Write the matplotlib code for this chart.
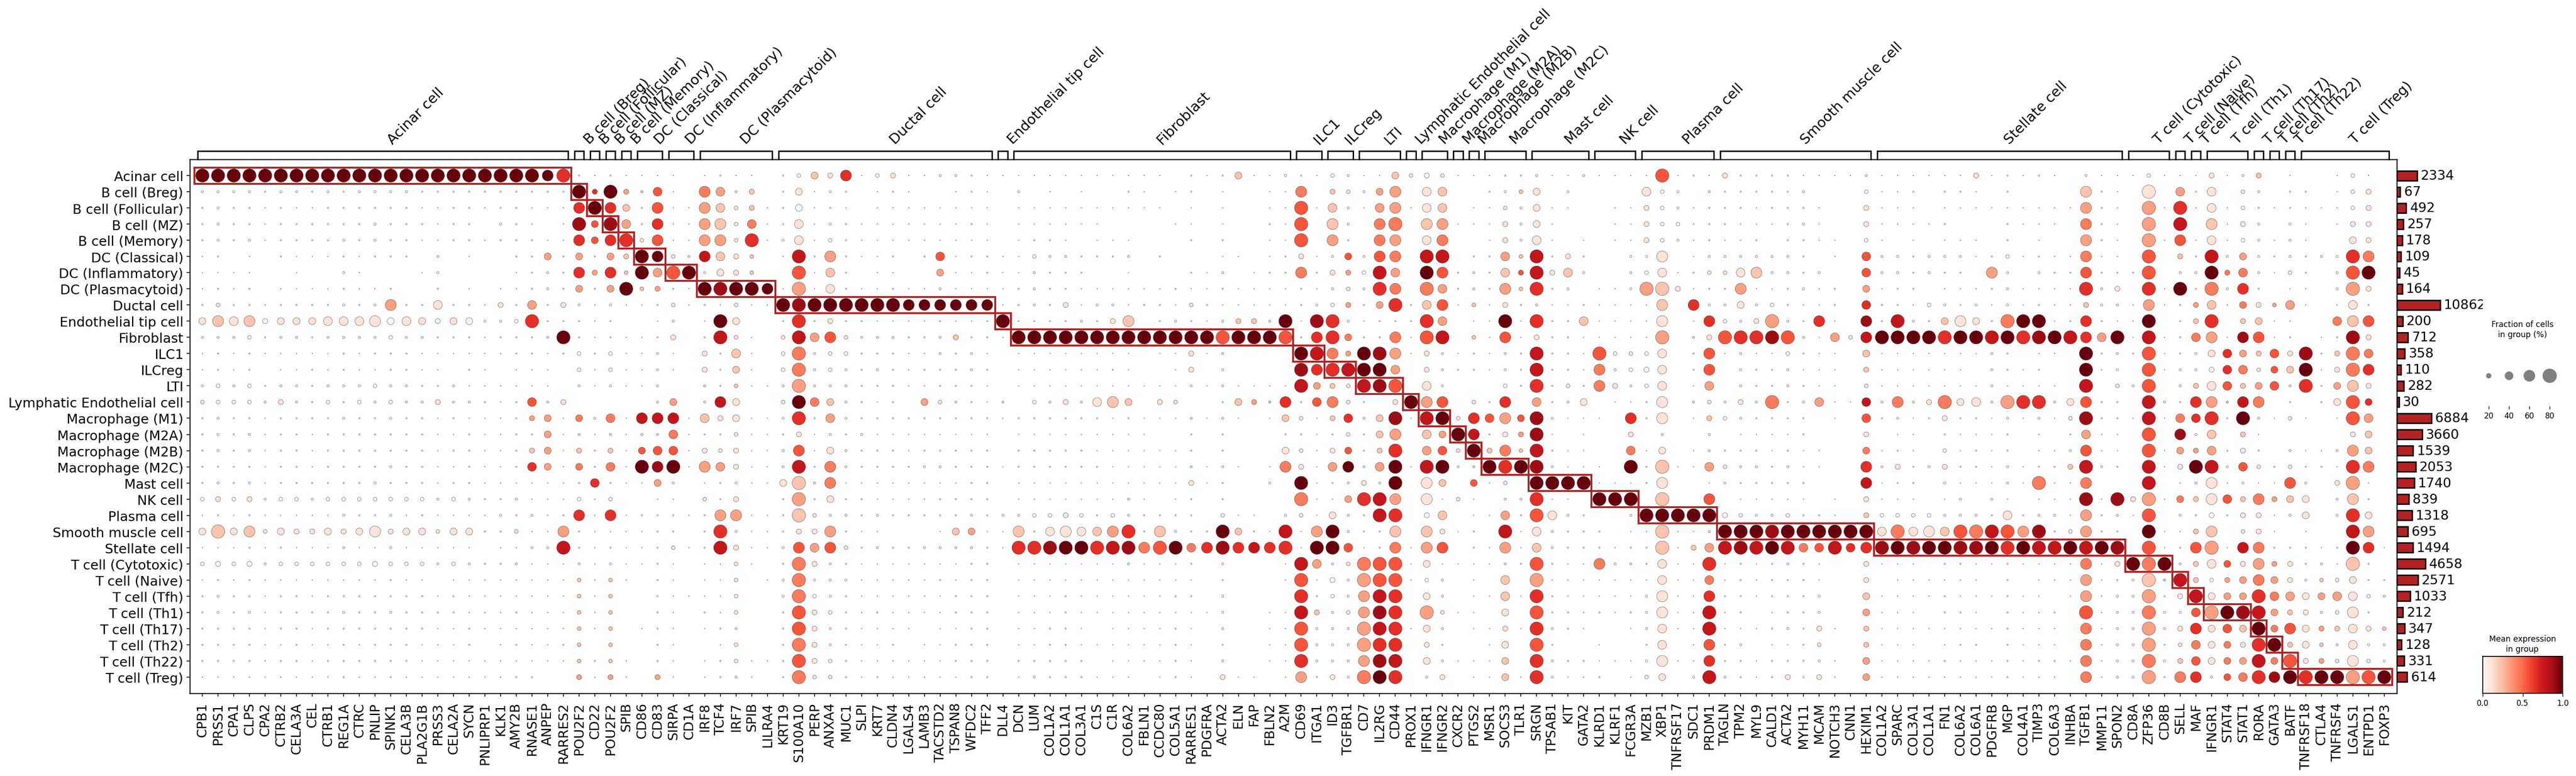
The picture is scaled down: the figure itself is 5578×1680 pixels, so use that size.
import matplotlib

matplotlib.use("Agg")
import matplotlib.pyplot as plt
import numpy as np
from matplotlib.cm import ScalarMappable
from matplotlib.colors import Normalize
from matplotlib.patches import Rectangle

W, H = 5578, 1681

cell_types = [
    "Acinar cell", "B cell (Breg)", "B cell (Follicular)", "B cell (MZ)", "B cell (Memory)",
    "DC (Classical)", "DC (Inflammatory)", "DC (Plasmacytoid)", "Ductal cell",
    "Endothelial tip cell", "Fibroblast", "ILC1", "ILCreg", "LTI",
    "Lymphatic Endothelial cell", "Macrophage (M1)", "Macrophage (M2A)", "Macrophage (M2B)",
    "Macrophage (M2C)", "Mast cell", "NK cell", "Plasma cell", "Smooth muscle cell",
    "Stellate cell", "T cell (Cytotoxic)", "T cell (Naive)", "T cell (Tfh)", "T cell (Th1)",
    "T cell (Th17)", "T cell (Th2)", "T cell (Th22)", "T cell (Treg)",
]
cell_counts = [
    2334, 67, 492, 257, 178, 109, 45, 164, 10862, 200, 712, 358, 110, 282, 30, 6884,
    3660, 1539, 2053, 1740, 839, 1318, 695, 1494, 4658, 2571, 1033, 212, 347, 128, 331, 614,
]
genes_per_group = [
    24, 1, 1, 1, 1, 2, 2, 5, 14, 1, 18, 2, 2, 3, 1, 2, 1, 1, 3, 4, 3, 5, 10, 16, 3, 1, 1, 3, 1, 1, 1, 6,
]
genes = """CPB1 PRSS1 CPA1 CLPS CPA2 CTRB2 CELA3A CEL CTRB1 REG1A CTRC PNLIP SPINK1 CELA3B PLA2G1B
PRSS3 CELA2A SYCN PNLIPRP1 KLK1 AMY2B RNASE1 ANPEP RARRES2 POU2F2 CD22 POU2F2 SPIB CD86 CD83
SIRPA CD1A IRF8 TCF4 IRF7 SPIB LILRA4 KRT19 S100A10 PERP ANXA4 MUC1 SLPI KRT7 CLDN4 LGALS4
LAMB3 TACSTD2 TSPAN8 WFDC2 TFF2 DLL4 DCN LUM COL1A2 COL1A1 COL3A1 C1S C1R COL6A2 FBLN1 CCDC80
COL5A1 RARRES1 PDGFRA ACTA2 ELN FAP FBLN2 A2M CD69 ITGA1 ID3 TGFBR1 CD7 IL2RG CD44 PROX1
IFNGR1 IFNGR2 CXCR2 PTGS2 MSR1 SOCS3 TLR1 SRGN TPSAB1 KIT GATA2 KLRD1 KLRF1 FCGR3A MZB1 XBP1
TNFRSF17 SDC1 PRDM1 TAGLN TPM2 MYL9 CALD1 ACTA2 MYH11 MCAM NOTCH3 CNN1 HEXIM1 COL1A2 SPARC
COL3A1 COL1A1 FN1 COL6A2 COL6A1 PDGFRB MGP COL4A1 TIMP3 COL6A3 INHBA TGFB1 MMP11 SPON2 CD8A
ZFP36 CD8B SELL MAF IFNGR1 STAT4 STAT1 RORA GATA3 BATF TNFRSF18 CTLA4 TNFRSF4 LGALS1 ENTPD1
FOXP3""".split()

# each digit is one cell, rows as cell_types, columns as genes (spaces are only for counting)
frac_levels = [0, 1.5, 3.7, 7, 14, 21, 32, 44, 59, 76]  # percent of cells per digit
frac_rows = [
    "999999999999999999999989 21211110 12110 24658145113321 1 111111111102126113 21431 16454 11122 31131 11191 21522 22111 13111 1 11512 12103 11141 11513 50100 1410",
    "333323323233332222222222 95953710 87350 26132012100121 0 301010021012010011 80543 68077 00234 60300 00743 03222 22300 04112 0 22102 00008 21090 72704 30220 1450",
    "232212112222221122122111 89862811 87451 26121011111111 0 111111111101010011 91731 78177 01143 61100 11543 12221 22210 05111 0 11111 11118 21091 91714 21211 1450",
    "232212222223222122032101 96972811 88471 27132111111121 0 111111000011010021 90830 89088 11153 61000 11544 12211 12310 05111 1 20002 11108 21090 90815 30310 1550",
    "232312222323221122122211 86894811 88491 37142111111111 0 122101110002020011 90820 88078 00153 71010 11543 12112 02211 04101 0 11102 01008 21091 81714 31310 0650",
    "120102111212220301002262 62659843 87540 19282112027122 1 143322230200011012 51363 88099 02274 92520 03380 13333 33201 07332 3 33124 12118 11090 52936 32323 3980",
    "111100100310001300001232 85849799 36540 09172011006112 1 132220010002130122 82554 97098 23275 95730 03471 24478 33230 07332 3 22083 03228 22290 33957 31420 3990",
    "121201111211200201011232 62694521 99998 19172112113111 1 232211111121121111 21343 98097 23284 92301 13995 12281 12312 06122 0 11123 11119 35091 92938 20110 3950",
    "242212222323822722152725 31311241 21411 99999999888888 1 232513312214211111 23452 69278 14152 31121 11180 83363 42112 07221 4 31313 12115 33181 25716 54710 1720",
    "687856667778676566334922 21200130 19600 29252211112112 9 222232580232135539 19931 22297 01191 92271 11180 18435 93281 08293 2 68629 99128 21190 25905 61100 7880",
    "333423323333433222122239 21211250 29410 49784333223522 1 999999999999999999 28962 28199 04181 52211 11190 35999 99317 48999 9 99999 99998 79191 27818 81201 2950",
    "121211111212221111112212 42411310 52710 49344222113231 0 111111110115130000 99859 98153 12132 92219 44470 28131 14211 06111 1 11132 01109 23291 23676 57592 5970",
    "121201121211221102101110 41411310 52610 49343232122232 0 111111210015030000 98999 97053 22132 92218 34570 28032 23111 05111 1 11032 12009 13091 33577 46691 5980",
    "343423323334332231111110 31311300 32411 39333222112221 0 111111111113131111 96549 99073 00042 92428 53470 17032 23211 04111 1 11131 11109 04390 35775 67392 6850",
    "444435324243433533212735 00000360 38600 49763212064321 3 043537860540026538 27842 05988 04280 72360 11280 34353 92371 17383 5 96739 99368 22093 28838 80202 6960",
    "232212222322322121112561 63718881 75611 39273222222222 1 222222121113131016 41573 69199 48786 93111 08280 15432 22201 07231 2 52213 13149 22191 77929 31410 1970",
    "232312212222222112112261 31313371 22411 25132311111111 0 111111111002020002 21242 68076 98255 91010 05030 03011 11200 05011 0 21112 01027 11090 83705 10000 0560",
    "232312212222222122112561 52516771 54511 38163222122222 0 222221111112020006 41562 59077 49584 92110 07160 13222 12110 06121 0 41212 01138 11091 65725 20311 3860",
    "222212212222322112112761 62719891 87511 39283222233222 1 222222111113131018 51783 79199 33999 93111 09291 17433 23110 08352 3 52213 12259 32091 59937 42422 1980",
    "232312222223222122111111 27211630 12311 69381111111122 0 111111111115120030 91235 39086 06140 99991 11280 01322 22200 08122 0 31113 19118 00090 13813 11830 5910",
    "454534434444444343223111 41400110 42500 29262211112222 0 111111131012020000 91169 98081 41033 91109 99090 08011 11101 05111 0 13031 01119 19591 65875 85660 3820",
    "121211111322312111132312 81812221 28811 29433232222232 3 344542432222041103 41632 99057 01172 97320 03999 99543 34221 05444 4 33327 23318 23190 32525 51360 3960",
    "696846556568566466224118 21111220 29311 25582110001661 1 827877892832296219 18932 28085 12091 73222 01191 13999 99999 99797 8 79999 89248 22091 15804 51010 0980",
    "111212111311311111011339 21211241 29511 38784232233332 1 999999998997898889 19971 28188 02181 73222 12291 57999 99779 78999 9 99999 99999 99091 28918 82221 2981",
    "454534444445444343223111 31311210 11410 29532111111122 0 111111131112030001 97349 99161 11132 92118 33271 19121 23210 05111 0 22112 11118 15999 35765 85523 1920",
    "121211111111211011111111 41410210 11401 39333111112122 0 111111111111020001 91539 99143 01070 91111 11171 17121 22210 05011 1 11102 01118 12393 95456 86534 4622",
    "232212212222222121111111 41400211 11400 39432111111222 0 111211111122030000 92438 99063 01171 92111 11381 18221 22230 06111 1 21112 11018 13392 59666 97766 7743",
    "232312222322322221112111 41400210 21400 29542121111222 0 111211111111130011 95348 99094 11060 92212 12381 19120 12230 06111 0 22102 11209 13393 37999 96553 4820",
    "222212212222222112111111 41401210 12300 29532111101122 0 112210111121030011 93339 99163 01151 93210 01371 19111 23251 05111 1 11112 11108 13393 58676 96865 5754",
    "222211211212221112012112 40400210 01400 29532112011222 0 112211111121020011 93339 99052 00160 92001 00270 18230 11240 05111 0 12202 11108 13392 47665 99564 3733",
    "222212212222221111111111 42410210 12411 29542111111222 0 222220111121030011 93338 99063 11160 93221 11381 18221 22231 06111 1 21112 12218 13393 57666 96955 4843",
    "111111111211211111112200 51510510 12310 29442121111122 0 132221110121051101 82539 99035 01161 93112 01460 39321 25251 06111 1 11112 11108 13392 88367 98999 9999",
]
# mean expression, digit / 9
expr_rows = [
    "999999999999999999999996 00000000 00000 00216001000000 0 000000000000002000 00000 02101 00000 00000 00050 00100 00000 00000 0 00100 00000 00000 00100 20000 0000",
    "000000000000000000000000 96932500 43120 01000000000000 0 000000000000000000 40210 33012 00002 10000 00100 01000 00000 00000 0 00000 00002 00010 30101 00000 0010",
    "000000000000000000000000 69620500 32120 00000000000000 0 000000000000000000 50200 33012 00010 10000 00100 00000 00000 01000 0 00000 00003 00030 60100 00000 0010",
    "000000000000000000000000 85830600 32140 01000000000000 0 000000000000000000 50200 44023 00010 10000 00100 00000 00000 01000 0 00000 00004 00030 70201 00000 0110",
    "000000000000000000000000 65661500 33160 01000000000000 0 000000000000000000 50300 43014 00010 10000 00100 00000 00000 00000 0 00000 00003 00030 50100 00000 0110",
    "000000000000000000000030 30329911 72120 07030000005000 0 000000000000000000 10050 54077 00032 70100 00010 00000 00000 05000 0 00000 00004 00050 20703 00000 0640",
    "000000000000000000000000 63629359 01120 05020000003000 0 000000000000000000 40130 73095 00025 71200 00010 01112 00000 05000 0 00030 00005 00050 00944 00100 0590",
    "000000000000000000000000 30392300 98999 03010000000000 0 000000000000000000 00010 64043 00032 60000 00321 00030 00000 03000 0 00000 00006 11060 90406 00000 0310",
    "010000000000300100010301 00000010 00100 98999999999999 0 000100000001000000 00030 36025 02010 00000 00020 60010 00000 06000 0 00000 00002 01030 03204 13300 0100",
    "121201111111011010000600 00000000 09100 06010000000000 9 000000120000002219 08600 00063 00090 60020 00010 06001 30060 08070 0 21104 99006 00090 02602 20000 4250",
    "000000000000000000000009 00000010 07100 17351000000200 0 999999999999959995 06640 04057 02050 10000 00030 11566 85003 17999 9 69979 68976 39070 04308 50000 0810",
    "000000000000000000000000 00000000 10200 04000000000000 0 000000000001010000 97439 83010 00000 70005 01010 05000 00000 02000 0 00000 00009 00050 00163 25180 2440",
    "000000000000000000000000 00000000 10200 04000000000000 0 000000000001000000 86679 93010 00000 70004 00010 05000 00000 02000 0 00000 00009 00050 00064 15290 1460",
    "000000000000000000000000 00000000 10200 03000000000000 0 000000000000000000 73217 85010 00000 60104 10010 03000 00000 01000 0 00000 00007 01050 02152 35160 3210",
    "100001000000000100000501 00000030 07100 19420000031000 1 000101220110002326 05410 01935 01060 30010 00010 11010 40030 07040 1 41103 66015 00070 06327 40000 1560",
    "000000000000000000000330 40407770 21100 06030000000000 0 000000000001000002 10260 28079 16535 80000 06010 02000 00000 05000 0 10000 00018 00070 46609 00100 0530",
    "000000000000000000000030 10101140 00100 01000000000000 0 000000000000000000 00010 23023 97013 80000 01000 00000 00000 01000 0 00000 00003 00050 80202 00000 0120",
    "000000000000000000000230 20205550 11100 05010000000000 0 000000000000000001 10150 26035 19242 70000 04010 01000 00000 04000 0 00000 00005 00050 33301 00000 0320",
    "000000000000000000000630 40409890 33100 07040000000000 0 000000000001000004 10390 39079 01969 80000 09020 03100 00000 06010 0 10000 00027 00070 19705 10100 0640",
    "000000000000000000000000 06000300 00000 12140000000000 0 000000000001000000 90001 09012 05010 99990 00010 00000 00000 07000 0 00000 04004 00070 01100 00500 1300",
    "010100000000000000000000 00000000 10100 03010000000000 0 000000010000000000 40036 73010 10000 60009 99020 05000 00000 01000 0 00000 00008 08130 42152 43210 0200",
    "000000000000000000000000 60600000 03300 02100000000000 0 000100000000000000 10100 76002 00030 51000 00999 99000 00000 02000 0 00001 00003 00050 00001 10010 0610",
    "121211111111111111001003 00000000 06000 01130000000230 0 201112360200092007 03900 02021 00070 10000 00020 01999 89999 99141 1 25475 38013 00090 02201 10000 0730",
    "000000000000000000000007 00000010 07100 05351000000000 0 668996784594686766 09950 04035 00030 20000 00020 23787 97457 66898 9 98896 97797 98050 05307 40000 0960",
    "000000000000000000000000 00000000 00100 04100000000000 0 000000000000000000 73014 55010 00000 50004 01010 06000 00000 01000 0 00000 00004 01949 02151 33100 0200",
    "000000000000000000000000 20200000 00100 04000000000000 0 000000000000000000 50003 55000 00020 30000 00010 04000 00000 01000 0 00000 00003 00022 72033 43102 1100",
    "000000000000000000000000 20200000 00100 04000000000000 0 000000000000000000 60003 76010 00020 60000 00010 06000 00000 02000 0 00000 00003 00030 17133 64313 3111",
    "000000000000000000000000 20200000 00100 05100000000000 0 000000000000000000 72013 86031 00010 50000 00010 07000 00000 03000 0 00000 00005 00040 05398 73211 1100",
    "000000000000000000000000 20200000 00100 05100000000000 0 000000000000000000 50003 76010 00010 60000 00010 07000 00010 02000 0 00000 00004 00030 16152 94513 2112",
    "000000000000000000000000 20200000 00100 04100000000000 0 000000000000000000 50003 66010 00010 50000 00010 05000 00010 02000 0 00000 00004 00030 14141 69212 1100",
    "000000000000000000000000 20200000 00100 05100000000000 0 000000000000000000 60003 87010 00020 60000 00010 06000 00000 03000 0 00000 00004 00040 25143 74513 1110",
    "000000000000000000000000 30300300 00100 04110000000000 0 000000000000010000 30104 96001 00020 60000 00110 07000 01010 03000 0 00000 00004 00030 46054 68969 9359",
]
legend_fracs = [20, 40, 60, 80]


def decode(rows):
    rows = ["".join(r.split()) for r in rows]
    for name, r in zip(cell_types, rows):
        assert len(r) == len(genes), (name, len(r))
    return np.array([[int(ch) for ch in r] for r in rows])


def dot_size(pct):
    # area grows with fraction ** 1.5, 653 pt^2 would be 100 %
    return 653 * (np.asarray(pct, dtype=float) / 100) ** 1.5


def add_ax(x0, y0, x1, y1):
    return fig.add_axes([x0 / W, 1 - y1 / H, (x1 - x0) / W, (y1 - y0) / H])


fig = plt.figure(figsize=(W / 100, H / 100), dpi=100)

frac = np.array(frac_levels)[decode(frac_rows)]
expr = decode(expr_rows) / 9

# =====================main dots================================================
ax = add_ax(411, 346, 5190, 1502)
yy, xx = np.nonzero(frac)
ax.scatter(
    xx, yy, s=dot_size(frac[yy, xx]), c=expr[yy, xx], cmap="Reds", vmin=0, vmax=1,
    edgecolors="#333333", linewidths=0.4, zorder=2,
)
ax.set_xlim(-0.8, len(genes) - 1 + 0.8)
ax.set_ylim(len(cell_types), -1)
ax.set_xticks(np.arange(len(genes)))
ax.set_xticklabels(genes, rotation=90, fontsize=20.5)
ax.set_yticks(np.arange(len(cell_types)))
ax.set_yticklabels(cell_types, fontsize=20.8)
ax.tick_params(axis="x", length=5, width=1.2, pad=9)
ax.tick_params(axis="y", length=5, width=1.2, pad=5)
for s in ax.spines.values():
    s.set_linewidth(1.8)
    s.set_color("#222222")

# =====================brackets and red boxes===================================
top = add_ax(411, 328, 5190, 346)
top.set_xlim(ax.get_xlim())
top.set_ylim(0, 1)
top.axis("off")
start = 0
for i, (name, n) in enumerate(zip(cell_types, genes_per_group)):
    end = start + n - 1
    top.plot(
        [start - 0.3, start - 0.3, end + 0.3, end + 0.3], [0, 1, 1, 0],
        color="black", lw=2.2, clip_on=False, solid_joinstyle="miter",
    )
    top.text(
        (start + end) / 2 + 0.15, 1.55, name, rotation=45, ha="left", va="bottom",
        fontsize=22, clip_on=False,
    )
    ax.add_patch(
        Rectangle((start - 0.5, i - 0.5), n, 1, fill=False, edgecolor="firebrick", lw=3, zorder=3)
    )
    start = end + 1

# =====================cell counts==============================================
bars = add_ax(5190, 346, 5376, 1502)
ypos = np.arange(len(cell_types))
bars.barh(ypos, cell_counts, height=0.6, color="firebrick", edgecolor="black", lw=2.2, left=0)
bars.set_xscale("function", functions=(np.sqrt, np.square))
bars.set_xlim(0, 42530)
bars.set_ylim(ax.get_ylim())
bars.axis("off")
for y, n in zip(ypos, cell_counts):
    lbl = bars.annotate(
        str(n), (n, y), xytext=(6, 0), textcoords="offset points", va="center",
        fontsize=20.6, annotation_clip=False,
    )
    lbl.set_clip_box(bars.bbox)
    lbl.set_clip_on(True)

# =====================size legend==============================================
fig.text(5462 / W, 1 - 714 / H, "Fraction of cells\nin group (%)", ha="center", va="center", fontsize=12.3, linespacing=1.25)
leg = add_ax(5367, 760, 5543, 880)
leg.scatter(np.arange(4), np.zeros(4), s=dot_size(legend_fracs), color="gray", edgecolors="#666666", linewidths=0.4)
leg.set_xlim(-0.5, 3.5)
leg.set_ylim(-1.2, 1)
leg.set_xticks(np.arange(4))
leg.set_xticklabels(legend_fracs, fontsize=12)
leg.set_yticks([])
leg.tick_params(axis="x", length=5, width=1, pad=4)
for s in leg.spines.values():
    s.set_visible(False)

# =====================colorbar=================================================
fig.text(5462 / W, 1 - 1395 / H, "Mean expression\nin group", ha="center", va="center", fontsize=12.3, linespacing=1.25)
cax = add_ax(5376, 1422, 5549, 1502)
cb = fig.colorbar(ScalarMappable(Normalize(0, 1), "Reds"), cax=cax, orientation="horizontal")
cb.set_ticks([0, 0.5, 1])
cb.ax.tick_params(labelsize=12, length=5, width=1)
cb.outline.set_linewidth(1.5)

fig.savefig("out.png", dpi=100)
